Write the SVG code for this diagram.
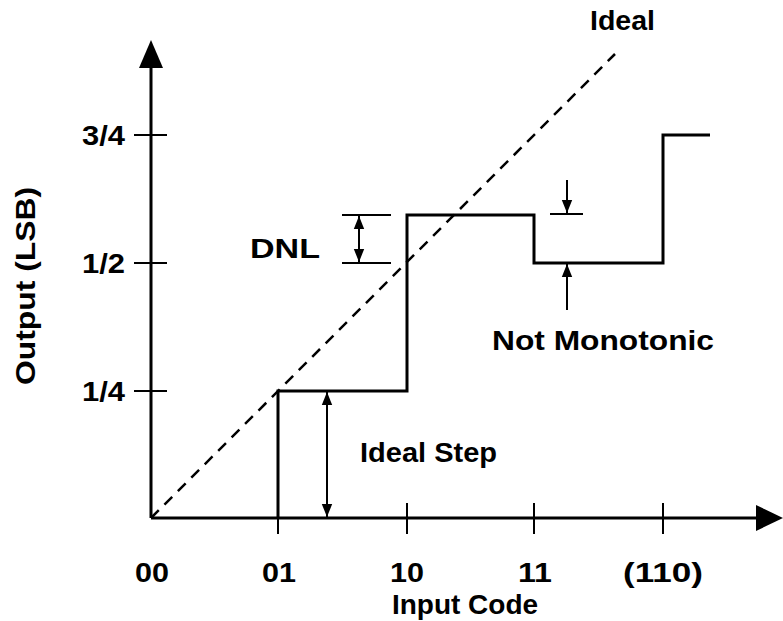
<svg xmlns="http://www.w3.org/2000/svg" width="783" height="621" viewBox="0 0 783 621">
<style>
.t{font-family:"Liberation Sans",Arial,sans-serif;font-weight:bold;font-size:28px;fill:#000}
.ax{stroke:#000;stroke-width:3;fill:none}
.tk{stroke:#000;stroke-width:2;fill:none}
.thin{stroke:#000;stroke-width:2;fill:none}
</style>
<defs>
<marker id="ah" viewBox="0 0 10 10" refX="10" refY="5" markerWidth="13" markerHeight="13" markerUnits="userSpaceOnUse" orient="auto">
<path d="M0,1 L10,5 L0,9 z" fill="#000"/>
</marker>
</defs>
<g id="axes">
<line class="ax" x1="151" y1="518" x2="151" y2="68"/>
<polygon points="151,40 139,68 163,68" fill="#000"/>
<line class="ax" x1="151" y1="518" x2="758" y2="518"/>
<polygon points="783,518 756,505 756,531" fill="#000"/>
<line class="tk" x1="134" y1="135" x2="167" y2="135"/>
<line class="tk" x1="134" y1="263" x2="167" y2="263"/>
<line class="tk" x1="134" y1="391" x2="167" y2="391"/>
<line class="tk" x1="278" y1="503" x2="278" y2="534"/>
<line class="tk" x1="407" y1="503" x2="407" y2="534"/>
<line class="tk" x1="534" y1="503" x2="534" y2="534"/>
<line class="tk" x1="663" y1="503" x2="663" y2="534"/>
</g>
<g id="ideal">
<line x1="151" y1="518" x2="615" y2="54" stroke="#000" stroke-width="2.5" stroke-dasharray="11,8"/>
</g>
<g id="staircase">
<polyline class="ax" points="278,518 278,391 407,391 407,215 534,215 534,263 663,263 663,135 710,135"/>
</g>
<g id="connectors">
<line class="tk" x1="342" y1="215" x2="391" y2="215"/>
<line class="tk" x1="342" y1="263" x2="391" y2="263"/>
<line class="thin" x1="359" y1="240" x2="359" y2="216" marker-end="url(#ah)"/>
<line class="thin" x1="359" y1="240" x2="359" y2="262" marker-end="url(#ah)"/>
<line class="tk" x1="550" y1="214" x2="583" y2="214"/>
<line class="thin" x1="567" y1="180" x2="567" y2="213" marker-end="url(#ah)"/>
<line class="thin" x1="567" y1="310" x2="567" y2="264" marker-end="url(#ah)"/>
<line class="thin" x1="327" y1="455" x2="327" y2="392" marker-end="url(#ah)"/>
<line class="thin" x1="327" y1="455" x2="327" y2="517" marker-end="url(#ah)"/>
</g>
<g id="labels">
<text class="t" x="590" y="30" textLength="65" lengthAdjust="spacingAndGlyphs">Ideal</text>
<text class="t" x="250" y="258" textLength="70" lengthAdjust="spacingAndGlyphs">DNL</text>
<text class="t" x="492" y="350" textLength="222" lengthAdjust="spacingAndGlyphs">Not Monotonic</text>
<text class="t" x="360" y="462" textLength="137" lengthAdjust="spacingAndGlyphs">Ideal Step</text>
<text class="t" x="82" y="145" textLength="43" lengthAdjust="spacingAndGlyphs">3/4</text>
<text class="t" x="82" y="273" textLength="43" lengthAdjust="spacingAndGlyphs">1/2</text>
<text class="t" x="82" y="401" textLength="43" lengthAdjust="spacingAndGlyphs">1/4</text>
<text class="t" x="135" y="582" textLength="34" lengthAdjust="spacingAndGlyphs">00</text>
<text class="t" x="262" y="582" textLength="34" lengthAdjust="spacingAndGlyphs">01</text>
<text class="t" x="390" y="582" textLength="34" lengthAdjust="spacingAndGlyphs">10</text>
<text class="t" x="518" y="582" textLength="34" lengthAdjust="spacingAndGlyphs">11</text>
<text class="t" x="623" y="582" textLength="80" lengthAdjust="spacingAndGlyphs">(110)</text>
<text class="t" x="465" y="614" text-anchor="middle">Input Code</text>
<text class="t" transform="translate(35,385) rotate(-90)" textLength="198" lengthAdjust="spacingAndGlyphs">Output (LSB)</text>
</g>
</svg>
